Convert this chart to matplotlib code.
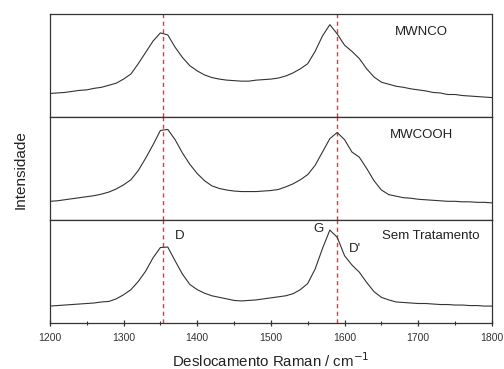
import numpy as np
import matplotlib
matplotlib.use('Agg')
import matplotlib.pyplot as plt
import matplotlib.ticker as ticker

plt.rcParams['font.family'] = ['Liberation Sans', 'DejaVu Sans']

# ==========================================
# dados (intensidade relativa, passo de 10 cm-1)
# ==========================================
raman_shift = np.arange(1200, 1801, 10)

mwnco = [0.23, 0.235, 0.24, 0.25, 0.26, 0.265, 0.28, 0.29, 0.31, 0.33,
         0.37, 0.42, 0.52, 0.63, 0.74, 0.82, 0.80, 0.68, 0.58, 0.50,
         0.45, 0.41, 0.385, 0.37, 0.36, 0.355, 0.35, 0.35, 0.36, 0.365,
         0.37, 0.38, 0.40, 0.43, 0.47, 0.52, 0.64, 0.79, 0.90, 0.81,
         0.70, 0.64, 0.57, 0.47, 0.39, 0.34, 0.32, 0.30, 0.29, 0.275,
         0.265, 0.255, 0.24, 0.235, 0.22, 0.22, 0.21, 0.205, 0.20, 0.195,
         0.19]

mwcooh = [0.18, 0.185, 0.195, 0.205, 0.215, 0.225, 0.235, 0.25, 0.27, 0.30,
          0.34, 0.39, 0.48, 0.60, 0.73, 0.87, 0.88, 0.78, 0.65, 0.54,
          0.45, 0.38, 0.33, 0.305, 0.29, 0.28, 0.275, 0.275, 0.275, 0.28,
          0.285, 0.295, 0.32, 0.35, 0.39, 0.44, 0.53, 0.66, 0.79, 0.85,
          0.78, 0.66, 0.61, 0.50, 0.38, 0.29, 0.245, 0.23, 0.215, 0.21,
          0.20, 0.195, 0.19, 0.185, 0.18, 0.18, 0.175, 0.175, 0.17, 0.17,
          0.165]

sem_trat = [0.16, 0.165, 0.17, 0.175, 0.18, 0.185, 0.19, 0.20, 0.205, 0.23,
            0.27, 0.32, 0.40, 0.50, 0.63, 0.73, 0.735, 0.60, 0.47, 0.37,
            0.32, 0.285, 0.26, 0.245, 0.23, 0.215, 0.21, 0.215, 0.22, 0.23,
            0.24, 0.25, 0.26, 0.28, 0.32, 0.38, 0.52, 0.72, 0.90, 0.83,
            0.65, 0.56, 0.49, 0.39, 0.30, 0.245, 0.22, 0.20, 0.195, 0.19,
            0.185, 0.185, 0.18, 0.175, 0.175, 0.17, 0.17, 0.165, 0.165, 0.16,
            0.16]

amostras = ['MWNCO', 'MWCOOH', 'Sem Tratamento']
espectros = [mwnco, mwcooh, sem_trat]
linhas_ref = [1354, 1590]

# ==========================================
# figura
# ==========================================
fig = plt.figure(figsize=(5.04, 3.69), dpi=100)
gs = fig.add_gridspec(3, 1, left=0.099, right=0.976, bottom=0.126, top=0.961, hspace=0)
axes = [fig.add_subplot(gs[i]) for i in range(3)]

label_pos = [(1704, 0.83), (1704, 0.83), (1717, 0.84)]

for i, ax in enumerate(axes):
    for xv in linhas_ref:
        ax.axvline(xv, color='#ff2d2d', linestyle=(0, (3, 2.5)), linewidth=1.0, zorder=1)
    ax.plot(raman_shift, espectros[i], color='#333333', linewidth=0.8, zorder=2)
    ax.set_xlim(1200, 1800)
    ax.set_ylim(0, 1)
    ax.set_yticks([])
    for s in ax.spines.values():
        s.set_color('#333333')
        s.set_linewidth(0.9)
    ax.text(label_pos[i][0], label_pos[i][1], amostras[i], fontsize=9.5,
            ha='center', va='center', color='#222222')
    if i < 2:
        ax.tick_params(axis='x', which='both', bottom=False, labelbottom=False)

ax = axes[2]
ax.xaxis.set_major_locator(ticker.MultipleLocator(100))
ax.xaxis.set_minor_locator(ticker.MultipleLocator(50))
ax.tick_params(axis='x', which='major', direction='inout', length=5, width=0.9,
               labelsize=7.5, pad=5, colors='#333333')
ax.tick_params(axis='x', which='minor', direction='inout', length=3, width=0.8,
               colors='#333333')
ax.text(1376, 0.845, 'D', fontsize=9.5, ha='center', va='center', color='#222222')
ax.text(1564, 0.91, 'G', fontsize=9.5, ha='center', va='center', color='#222222')
ax.text(1614, 0.715, "D'", fontsize=9.5, ha='center', va='center', color='#222222')
ax.set_xlabel('Deslocamento Raman / cm$^{-1}$', fontsize=10.8, labelpad=6, color='#222222')

fig.text(0.04, 0.54, 'Intensidade', rotation=90, fontsize=11, ha='center', va='center',
         color='#222222')

fig.savefig('out.png', dpi=100)
